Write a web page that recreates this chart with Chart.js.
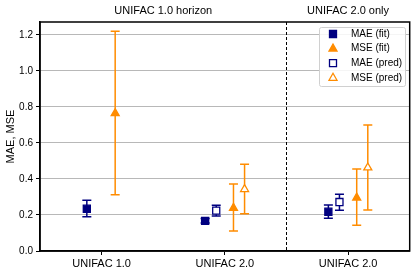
<!DOCTYPE html>
<html>
<head>
<meta charset="utf-8">
<script src="https://cdn.jsdelivr.net/npm/chart.js@4"></script>
<style>
  html, body { margin: 0; padding: 0; background: #fff; }
  #wrap { width: 416px; height: 274px; }
</style>
</head>
<body>
<div id="wrap"><canvas id="chart"></canvas></div>
<script>
const categories = ['UNIFAC 1.0', 'UNIFAC 2.0', 'UNIFAC 2.0'];
const regionLabels = ['UNIFAC 1.0 horizon', 'UNIFAC 2.0 only'];
const yTickValues = [0, 0.2, 0.4, 0.6, 0.8, 1.0, 1.2];

const maeFit = [0.235, 0.167, 0.218];
const maeFitLo = [0.19, 0.155, 0.182];
const maeFitHi = [0.282, 0.18, 0.256];

const mseFit = [0.765, 0.239, 0.296];
const mseFitLo = [0.313, 0.111, 0.143];
const mseFitHi = [1.22, 0.372, 0.456];

const maePred = [null, 0.224, 0.272];
const maePredLo = [null, 0.194, 0.226];
const maePredHi = [null, 0.254, 0.315];

const msePred = [null, 0.343, 0.463];
const msePredLo = [null, 0.207, 0.228];
const msePredHi = [null, 0.482, 0.70];

// horizontal dodge of each series inside its category
const dodge = {
  maeFit: [-0.12, -0.16, -0.16],
  maePred: [0, -0.07, -0.07],
  mseFit: [0.11, 0.07, 0.07],
  msePred: [0, 0.16, 0.16]
};

const NAVY = '#000080';
const ORANGE = '#ff8c00';
const FONT = "'Liberation Sans', Arial, sans-serif";

function points(values, lo, hi, offs) {
  const out = [];
  values.forEach((v, i) => {
    if (v === null) return;
    out.push({ x: i + offs[i], y: v, lo: lo[i], hi: hi[i] });
  });
  return out;
}

const errorBars = {
  id: 'errorBars',
  beforeDatasetsDraw(chart) {
    const ctx = chart.ctx;
    const xs = chart.scales.x;
    const ys = chart.scales.y;
    const area = chart.chartArea;

    // dashed separator between the two regions
    ctx.save();
    ctx.strokeStyle = '#000';
    ctx.lineWidth = 1;
    ctx.setLineDash([3, 2]);
    const sx = Math.round(xs.getPixelForValue(1.5)) + 0.5;
    ctx.beginPath();
    ctx.moveTo(sx, area.top);
    ctx.lineTo(sx, area.bottom);
    ctx.stroke();
    ctx.restore();

    chart.data.datasets.forEach(ds => {
      ctx.save();
      ctx.strokeStyle = ds.borderColor;
      ctx.lineWidth = 1.5;
      ds.data.forEach(p => {
        const px = xs.getPixelForValue(p.x);
        const y1 = ys.getPixelForValue(p.lo);
        const y2 = ys.getPixelForValue(p.hi);
        ctx.beginPath();
        ctx.moveTo(px, y1);
        ctx.lineTo(px, y2);
        ctx.moveTo(px - 4.5, y1);
        ctx.lineTo(px + 4.5, y1);
        ctx.moveTo(px - 4.5, y2);
        ctx.lineTo(px + 4.5, y2);
        ctx.stroke();
      });
      ctx.restore();
    });
  }
};

function drawMarker(ctx, style, x, y, fill, stroke) {
  ctx.beginPath();
  if (style === 'rect') {
    ctx.rect(x - 3.5, y - 3.5, 7, 7);
  } else {
    ctx.moveTo(x, y - 4.5);
    ctx.lineTo(x + 4, y + 2.5);
    ctx.lineTo(x - 4, y + 2.5);
    ctx.closePath();
  }
  ctx.fillStyle = fill;
  ctx.fill();
  ctx.strokeStyle = stroke;
  ctx.lineWidth = 1.3;
  ctx.stroke();
}

const decorations = {
  id: 'decorations',
  afterDraw(chart) {
    const ctx = chart.ctx;
    const xs = chart.scales.x;
    const area = chart.chartArea;

    ctx.save();
    // frame
    ctx.strokeStyle = '#000';
    ctx.lineWidth = 1.5;
    ctx.strokeRect(area.left, area.top, area.right - area.left, area.bottom - area.top);

    // region titles
    ctx.fillStyle = '#000';
    ctx.font = '11px ' + FONT;
    ctx.textAlign = 'center';
    ctx.textBaseline = 'middle';
    ctx.fillText(regionLabels[0], xs.getPixelForValue(0.5), 11);
    ctx.fillText(regionLabels[1], xs.getPixelForValue(2), 11);

    // legend
    const lx = 319, ly = 27, lw = 86, lh = 59;
    ctx.fillStyle = 'rgba(255,255,255,0.85)';
    ctx.strokeStyle = '#d0d0d0';
    ctx.lineWidth = 1;
    ctx.beginPath();
    ctx.roundRect(lx + 0.5, ly + 0.5, lw, lh, 2);
    ctx.fill();
    ctx.stroke();

    const rows = [
      ['rect', NAVY, NAVY, 'MAE (fit)'],
      ['triangle', ORANGE, ORANGE, 'MSE (fit)'],
      ['rect', '#fff', NAVY, 'MAE (pred)'],
      ['triangle', '#fff', ORANGE, 'MSE (pred)']
    ];
    rows.forEach((r, i) => {
      const ry = 34 + i * 14.6;
      drawMarker(ctx, r[0], 333, ry, r[1], r[2]);
      ctx.fillStyle = '#000';
      ctx.font = '10px ' + FONT;
      ctx.textAlign = 'left';
      ctx.textBaseline = 'middle';
      ctx.fillText(r[3], 351, ry);
    });
    ctx.restore();
  }
};

function series(label, data, fill, stroke, style, radius) {
  return {
    label: label,
    data: data,
    backgroundColor: fill,
    borderColor: stroke,
    borderWidth: 1.3,
    pointStyle: style,
    pointRadius: radius,
    pointHoverRadius: radius,
    showLine: false
  };
}

const ctx = document.getElementById('chart').getContext('2d');
new Chart(ctx, {
  type: 'scatter',
  data: {
    datasets: [
      series('MAE (fit)', points(maeFit, maeFitLo, maeFitHi, dodge.maeFit), NAVY, NAVY, 'rect', 5),
      series('MSE (fit)', points(mseFit, mseFitLo, mseFitHi, dodge.mseFit), ORANGE, ORANGE, 'triangle', 4.6),
      series('MAE (pred)', points(maePred, maePredLo, maePredHi, dodge.maePred), '#fff', NAVY, 'rect', 5),
      series('MSE (pred)', points(msePred, msePredLo, msePredHi, dodge.msePred), '#fff', ORANGE, 'triangle', 4.6)
    ]
  },
  options: {
    responsive: true,
    maintainAspectRatio: false,
    animation: false,
    layout: { padding: { left: 0, right: 6, top: 22, bottom: 0 } },
    plugins: {
      legend: { display: false },
      tooltip: { enabled: false }
    },
    scales: {
      x: {
        type: 'linear',
        min: -0.5,
        max: 2.5,
        afterBuildTicks: axis => { axis.ticks = categories.map((c, i) => ({ value: i })); },
        afterFit: axis => { axis.height = 23; },
        ticks: {
          callback: (v) => categories[v],
          color: '#000',
          font: { family: FONT, size: 11 },
          padding: 2,
          maxRotation: 0
        },
        grid: { drawOnChartArea: false, drawTicks: true, tickLength: 4, tickColor: '#000' },
        border: { display: true, color: '#000', width: 1.5 }
      },
      y: {
        min: 0,
        max: 1.272,
        afterBuildTicks: axis => { axis.ticks = yTickValues.map(v => ({ value: v })); },
        afterFit: axis => { axis.width = 40; },
        ticks: {
          callback: (v) => v.toFixed(1),
          color: '#000',
          font: { family: FONT, size: 10 },
          padding: 3
        },
        grid: { color: '#b8b8b8', lineWidth: 1, tickLength: 4, tickColor: '#000' },
        border: { display: true, color: '#000', width: 1.5 },
        title: {
          display: true,
          text: 'MAE, MSE',
          color: '#000',
          font: { family: FONT, size: 11 },
          padding: { top: 4, bottom: 2 }
        }
      }
    }
  },
  plugins: [errorBars, decorations]
});
</script>
</body>
</html>
